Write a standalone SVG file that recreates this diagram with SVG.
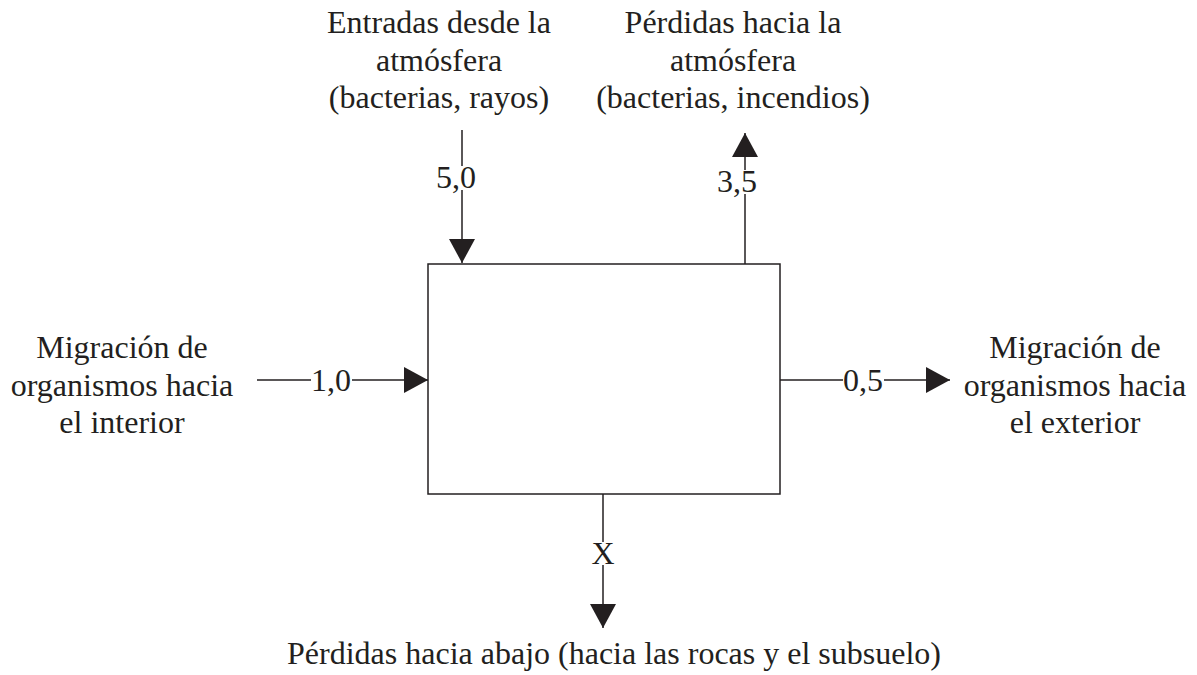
<svg xmlns="http://www.w3.org/2000/svg" width="1197" height="675" viewBox="0 0 1197 675">
<style>
  text { font-family: "Liberation Serif", "Times New Roman", serif; font-size: 32px; fill: #231f20; }
  .c { text-anchor: middle; }
  .ln { stroke: #231f20; stroke-width: 1.5; fill: none; }
  .lbl { fill: #ffffff; stroke: none; }
</style>
<defs>
  <marker id="ah" viewBox="0 0 24 26" refX="24" refY="13" markerWidth="24" markerHeight="26" markerUnits="userSpaceOnUse" orient="auto">
    <path d="M0,0 L24,13 L0,26 Z" fill="#231f20"/>
  </marker>
</defs>
<rect width="1197" height="675" fill="#ffffff"/>
<g id="box">
  <rect x="428" y="264" width="352" height="230" fill="none" stroke="#231f20" stroke-width="1.5"/>
</g>
<g id="connectors">
  <line class="ln" x1="462" y1="130" x2="462" y2="263" marker-end="url(#ah)"/>
  <line class="ln" x1="745" y1="264" x2="745" y2="133" marker-end="url(#ah)"/>
  <line class="ln" x1="257" y1="380" x2="428" y2="380" marker-end="url(#ah)"/>
  <line class="ln" x1="780" y1="380" x2="950" y2="380" marker-end="url(#ah)"/>
  <line class="ln" x1="603" y1="494" x2="603" y2="628" marker-end="url(#ah)"/>
  <rect class="lbl" x="439" y="166" width="34" height="24"/>
  <rect class="lbl" x="719" y="170" width="36" height="24"/>
  <rect class="lbl" x="311" y="367" width="41" height="26"/>
  <rect class="lbl" x="843" y="367" width="41" height="26"/>
  <rect class="lbl" x="593" y="542" width="20" height="23"/>
  <text class="c" x="456" y="188">5,0</text>
  <text class="c" x="737" y="192">3,5</text>
  <text class="c" x="331" y="391">1,0</text>
  <text class="c" x="863" y="391">0,5</text>
  <text class="c" x="603" y="564">X</text>
</g>
<g id="top-left-label">
  <text class="c" x="439" y="33">Entradas desde la</text>
  <text class="c" x="439" y="71">atmósfera</text>
  <text class="c" x="439" y="108">(bacterias, rayos)</text>
</g>
<g id="top-right-label">
  <text class="c" x="733" y="33">Pérdidas hacia la</text>
  <text class="c" x="733" y="71">atmósfera</text>
  <text class="c" x="733" y="108">(bacterias, incendios)</text>
</g>
<g id="left-label">
  <text class="c" x="122" y="358">Migración de</text>
  <text class="c" x="122" y="396">organismos hacia</text>
  <text class="c" x="122" y="433">el interior</text>
</g>
<g id="right-label">
  <text class="c" x="1075" y="358">Migración de</text>
  <text class="c" x="1075" y="396">organismos hacia</text>
  <text class="c" x="1075" y="433">el exterior</text>
</g>
<g id="bottom-label">
  <text class="c" x="614" y="664">Pérdidas hacia abajo (hacia las rocas y el subsuelo)</text>
</g>
</svg>
